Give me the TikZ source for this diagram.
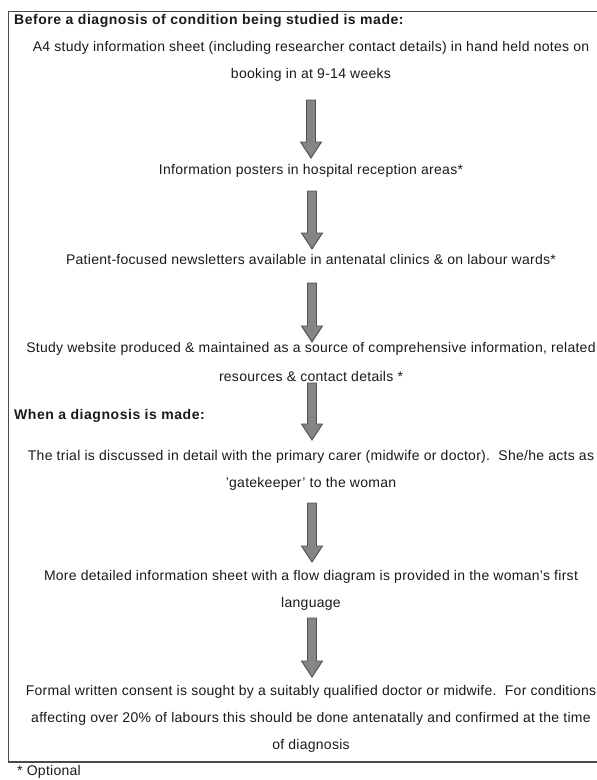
\documentclass[tikz,border=0pt]{standalone}
\usepackage{fontspec}
\setmainfont{Liberation Sans}[LetterSpace=1.95, BoldFeatures={LetterSpace=3.9}]
\definecolor{txt}{HTML}{1A1A1A}
\definecolor{arrowfill}{HTML}{858585}
\definecolor{arrowedge}{HTML}{505050}
\definecolor{boxedge}{HTML}{4A4A4A}
\tikzset{
  line/.style={font=\fontsize{14}{16}\selectfont, text=txt, inner sep=0pt, anchor=center},
  heading/.style={font=\fontsize{14}{16}\selectfont\bfseries, text=txt, inner sep=0pt, anchor=west},
  blockarrow/.pic={\draw[draw=arrowedge, fill=arrowfill, line width=0.9pt, line join=miter]
     (-4.5,0) -- (4.5,0) -- (4.5,#1-16) -- (10.5,#1-16) -- (0,#1) -- (-10.5,#1-16) -- (-4.5,#1-16) -- cycle;},
}
\begin{document}
\begin{tikzpicture}[x=1pt,y=-1pt]
\useasboundingbox (0,0) rectangle (597,780);
\fill[white] (0,0) rectangle (597,780);
\draw[boxedge, line width=1.4pt] (8.5,11.5) rectangle (605,762);

\node[heading] (h1) at (14,21) {Before a diagnosis of condition being studied is made:};
\node[line] (t1a) at (311,48) {A4 study information sheet (including researcher contact details) in hand held notes on};
\node[line] (t1b) at (311,75) {booking in at 9-14 weeks};
\node[line] (t2) at (311,171) {Information posters in hospital reception areas*};
\node[line] (t3) at (311,259) {Patient-focused newsletters available in antenatal clinics \& on labour wards*};
\node[line] (t4a) at (311,349) {Study website produced \& maintained as a source of comprehensive information, related};
\node[line] (t4b) at (311,376) {resources \& contact details *};
\node[heading] (h2) at (14,416) {When a diagnosis is made:};
\node[line] (t5a) at (311,457) {The trial is discussed in detail with the primary carer (midwife or doctor).\ \ She/he acts as};
\node[line] (t5b) at (311,484) {'gatekeeper' to the woman};
\node[line] (t6a) at (311,577) {More detailed information sheet with a flow diagram is provided in the woman's first};
\node[line] (t6b) at (311,604) {language};
\node[line] (t7a) at (311,692) {Formal written consent is sought by a suitably qualified doctor or midwife.\ \ For conditions};
\node[line] (t7b) at (311,719) {affecting over 20\% of labours this should be done antenatally and confirmed at the time};
\node[line] (t7c) at (311,746) {of diagnosis};
\node[line, anchor=west] (fn) at (17,772) {* Optional};

\coordinate (a1) at (311,100);
\coordinate (a2) at (312,191);
\coordinate (a3) at (312,283);
\coordinate (a4) at (312,383);
\coordinate (a5) at (312,503);
\coordinate (a6) at (312,618);
\pic at (a1) {blockarrow=58};
\pic at (a2) {blockarrow=58};
\pic at (a3) {blockarrow=59};
\pic at (a4) {blockarrow=57};
\pic at (a5) {blockarrow=59};
\pic at (a6) {blockarrow=59};
\end{tikzpicture}
\end{document}
